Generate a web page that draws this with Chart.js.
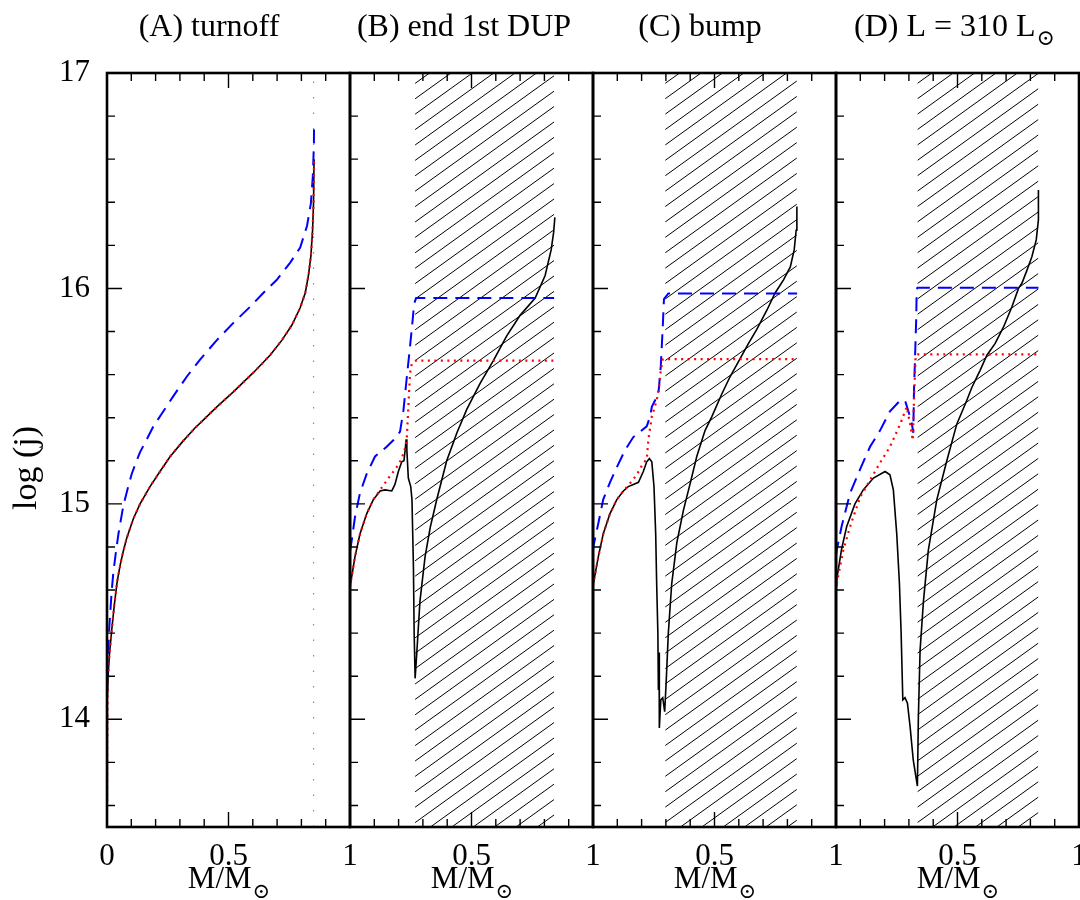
<!DOCTYPE html>
<html><head><meta charset="utf-8">
<script src="https://cdn.jsdelivr.net/npm/chart.js@4.4.1/dist/chart.umd.min.js"></script>
<style>
html,body{margin:0;padding:0;background:#fff;}
#wrap{position:relative;width:1080px;height:900px;overflow:hidden;background:#fff;}
#wrap canvas{position:absolute;top:0;}
</style></head><body><div id="wrap"></div>
<script>
// ---------------- data (mass coordinate M/Msun, log j) ----------------
const panelTitles = ['(A) turnoff', '(B) end 1st DUP', '(C) bump', '(D) L = 310 L'];
const panelTitleSubs = ['', '', '', '\u2299'];
const xAxisLabel = 'M/M';
const xAxisLabelSub = '\u2299';
const yAxisLabel = 'log (j)';
const yTickValues = [14, 15, 16, 17];
const xTickValuesFirst = [0, 0.5, 1];
const xTickValuesOther = [0.5, 1];
const xMajorMarks = [0.5];
const xMinorMarks = [0.1, 0.2, 0.3, 0.4, 0.6, 0.7, 0.8, 0.9];
const yMajorMarks = [14, 15, 16];
const yMinorMarks = [13.6, 13.8, 14.2, 14.4, 14.6, 14.8, 15.2, 15.4, 15.6, 15.8, 16.2, 16.4, 16.6, 16.8];

// Panel A (turnoff)
const aSolid = [[0,13.62],[0.0008,13.9],[0.002,14.1],[0.005,14.21],[0.01,14.30],[0.019,14.41],[0.03,14.53],[0.042,14.64],[0.055,14.72],[0.067,14.78],[0.081,14.84],[0.108,14.93],[0.136,15.00],[0.177,15.08],[0.218,15.15],[0.26,15.22],[0.312,15.29],[0.36,15.35],[0.397,15.39],[0.452,15.45],[0.52,15.52],[0.603,15.61],[0.671,15.69],[0.72,15.76],[0.761,15.83],[0.795,15.91],[0.816,15.98],[0.829,16.06],[0.839,16.15],[0.846,16.27],[0.85,16.40],[0.852,16.6]];
const aDotted = [[0,13.62],[0.0008,13.9],[0.002,14.1],[0.005,14.21],[0.01,14.30],[0.019,14.41],[0.03,14.53],[0.042,14.64],[0.055,14.72],[0.067,14.78],[0.081,14.84],[0.108,14.93],[0.136,15.00],[0.177,15.08],[0.218,15.15],[0.26,15.22],[0.312,15.29],[0.36,15.35],[0.397,15.39],[0.452,15.45],[0.52,15.52],[0.603,15.61],[0.671,15.69],[0.72,15.76],[0.761,15.83],[0.795,15.91],[0.816,15.98],[0.829,16.06],[0.839,16.15],[0.846,16.27],[0.85,16.40],[0.852,16.6]];
const aDashed = [[0,14.1],[0.001,14.21],[0.005,14.31],[0.0095,14.43],[0.019,14.59],[0.026,14.68],[0.036,14.77],[0.047,14.86],[0.067,14.99],[0.085,15.07],[0.102,15.14],[0.12,15.195],[0.136,15.24],[0.164,15.30],[0.191,15.36],[0.232,15.43],[0.273,15.50],[0.328,15.59],[0.383,15.67],[0.452,15.76],[0.52,15.84],[0.589,15.915],[0.644,15.98],[0.699,16.04],[0.754,16.12],[0.795,16.19],[0.823,16.29],[0.839,16.395],[0.847,16.52],[0.8515,16.67],[0.852,16.77]];
const aStarMass = [[0.85,13.5],[0.85,17]];

// Panel B (end 1st DUP)
const bSolid = [[0,14.615],[0.0206,14.755],[0.041,14.86],[0.069,14.955],[0.096,15.02],[0.124,15.06],[0.144,15.065],[0.172,15.06],[0.185,15.09],[0.199,15.15],[0.213,15.195],[0.222,15.20],[0.227,15.25],[0.231,15.30],[0.234,15.25],[0.24,15.12],[0.25,15.08],[0.255,15.02],[0.261,14.71],[0.264,14.40],[0.268,14.19],[0.275,14.31],[0.288,14.55],[0.309,14.755],[0.33,14.89],[0.357,15.02],[0.398,15.20],[0.44,15.33],[0.481,15.44],[0.536,15.56],[0.59,15.665],[0.645,15.78],[0.70,15.875],[0.762,15.955],[0.803,16.06],[0.828,16.18],[0.838,16.26],[0.843,16.33]];
const bDashed = [[0,14.78],[0.007,14.83],[0.0206,14.94],[0.041,15.05],[0.069,15.14],[0.103,15.22],[0.151,15.265],[0.178,15.295],[0.206,15.335],[0.22,15.435],[0.234,15.59],[0.247,15.73],[0.258,15.855],[0.264,15.93],[0.272,15.955],[0.84,15.955]];
const bDotted = [[0,14.615],[0.0206,14.755],[0.041,14.86],[0.069,14.955],[0.096,15.02],[0.124,15.065],[0.165,15.13],[0.192,15.17],[0.213,15.21],[0.227,15.26],[0.234,15.31],[0.24,15.45],[0.247,15.605],[0.254,15.65],[0.272,15.665],[0.84,15.665]];
const bHatch = [0.268, 0.84];

// Panel C (bump)
const cSolid = [[0,14.62],[0.022,14.755],[0.042,14.86],[0.07,14.955],[0.098,15.02],[0.125,15.06],[0.145,15.08],[0.166,15.09],[0.187,15.10],[0.207,15.15],[0.221,15.195],[0.232,15.21],[0.242,15.195],[0.251,15.08],[0.258,14.86],[0.262,14.63],[0.267,14.40],[0.269,14.14],[0.2705,14.30],[0.272,14.31],[0.273,13.96],[0.279,14.09],[0.287,14.10],[0.295,14.035],[0.301,14.17],[0.31,14.40],[0.324,14.63],[0.345,14.82],[0.372,14.97],[0.40,15.095],[0.427,15.22],[0.461,15.34],[0.489,15.405],[0.53,15.51],[0.564,15.59],[0.606,15.675],[0.64,15.745],[0.674,15.81],[0.716,15.90],[0.75,15.98],[0.784,16.04],[0.812,16.10],[0.828,16.18],[0.836,16.27],[0.839,16.38]];
const cDashed = [[0,14.78],[0.001,14.80],[0.022,14.91],[0.042,15.02],[0.07,15.10],[0.098,15.17],[0.132,15.25],[0.166,15.31],[0.194,15.335],[0.221,15.36],[0.235,15.405],[0.242,15.45],[0.255,15.48],[0.269,15.51],[0.279,15.64],[0.287,15.82],[0.292,15.95],[0.31,15.977],[0.84,15.977]];
const cDotted = [[0,14.62],[0.022,14.755],[0.042,14.86],[0.07,14.955],[0.098,15.02],[0.125,15.06],[0.152,15.095],[0.18,15.135],[0.207,15.19],[0.221,15.205],[0.228,15.30],[0.242,15.405],[0.262,15.48],[0.272,15.545],[0.279,15.62],[0.287,15.67],[0.297,15.672],[0.84,15.672]];
const cHatch = [0.297, 0.839];

// Panel D (L = 310 Lsun)
const dSolid = [[0,14.62],[0.003,14.65],[0.023,14.79],[0.044,14.895],[0.078,15.0],[0.112,15.065],[0.154,15.12],[0.202,15.15],[0.222,15.135],[0.236,15.065],[0.25,14.86],[0.261,14.63],[0.268,14.40],[0.275,14.09],[0.284,14.10],[0.294,14.075],[0.305,13.965],[0.318,13.81],[0.335,13.69],[0.339,14.01],[0.346,14.32],[0.36,14.55],[0.38,14.785],[0.415,15.02],[0.456,15.20],[0.497,15.37],[0.538,15.48],[0.559,15.54],[0.593,15.62],[0.621,15.69],[0.655,15.745],[0.689,15.82],[0.724,15.915],[0.751,16.0],[0.765,16.024],[0.786,16.085],[0.806,16.147],[0.824,16.225],[0.833,16.318],[0.833,16.457]];
const dDashed = [[0,14.76],[0.003,14.785],[0.023,14.895],[0.058,15.05],[0.099,15.16],[0.14,15.265],[0.181,15.34],[0.222,15.43],[0.264,15.48],[0.284,15.48],[0.298,15.43],[0.312,15.375],[0.318,15.33],[0.321,15.53],[0.325,15.67],[0.33,15.855],[0.332,15.99],[0.335,16.003],[0.833,16.003]];
const dDotted = [[0,14.6],[0.003,14.63],[0.03,14.785],[0.058,14.895],[0.099,15.03],[0.14,15.11],[0.181,15.19],[0.222,15.265],[0.264,15.37],[0.291,15.45],[0.305,15.37],[0.316,15.295],[0.321,15.48],[0.327,15.67],[0.333,15.694],[0.833,15.694]];
const dHatch = [0.335, 0.833];

// ---------------- layout ----------------
const PANEL_LEFT = [107, 350, 593, 836];
const PANEL_W = 243;
const TOP = 73, BOTTOM = 827, H = 900, PAD = 40;
const FONT = "'Liberation Serif','DejaVu Serif',serif";
const TITLE_CENTER = [209, 464, 700, 954];

const panels = [
  {solid: aSolid, dashed: aDashed, dotted: aDotted, extra: aStarMass, hatch: null, xticks: xTickValuesFirst},
  {solid: bSolid, dashed: bDashed, dotted: bDotted, extra: null, hatch: bHatch, xticks: xTickValuesOther},
  {solid: cSolid, dashed: cDashed, dotted: cDotted, extra: null, hatch: cHatch, xticks: xTickValuesOther},
  {solid: dSolid, dashed: dDashed, dotted: dDotted, extra: null, hatch: dHatch, xticks: xTickValuesOther}
];

function pts(a){ return a.map(p => ({x: p[0], y: p[1]})); }

function drawSubText(ctx, main, sub, cx, baseline, size, subSize, drop) {
  ctx.font = size + 'px ' + FONT;
  const w1 = ctx.measureText(main).width;
  ctx.font = subSize + 'px ' + FONT;
  const w2 = sub ? ctx.measureText(sub).width : 0;
  const x0 = cx - (w1 + w2) / 2;
  ctx.textAlign = 'left'; ctx.textBaseline = 'alphabetic'; ctx.fillStyle = '#000';
  ctx.font = size + 'px ' + FONT;
  ctx.fillText(main, x0, baseline);
  if (sub) { ctx.font = subSize + 'px ' + FONT; ctx.fillText(sub, x0 + w1 + 1, baseline + drop); }
}

const hatchPlugin = {
  id: 'hatch',
  beforeDatasetsDraw(chart, args, opts) {
    if (!opts.range) return;
    const {ctx, chartArea: ca, scales: {x}} = chart;
    const x0 = x.getPixelForValue(opts.range[0]), x1 = x.getPixelForValue(opts.range[1]);
    const w = x1 - x0, slope = 0.72, gap = 15.4;
    ctx.save();
    ctx.beginPath(); ctx.rect(x0, ca.top, w, ca.bottom - ca.top); ctx.clip();
    ctx.strokeStyle = '#000'; ctx.lineWidth = 1;
    ctx.beginPath();
    for (let yy = ca.top - 5; yy < ca.bottom + w * slope + gap; yy += gap) {
      ctx.moveTo(x0, yy); ctx.lineTo(x1, yy - w * slope);
    }
    ctx.stroke();
    ctx.restore();
  }
};

const framePlugin = {
  id: 'frame',
  afterDraw(chart, args, opts) {
    const {ctx, chartArea: ca, scales: {x, y}} = chart;
    ctx.save();
    ctx.strokeStyle = '#000'; ctx.lineWidth = 1.4; ctx.lineCap = 'butt';
    ctx.beginPath();
    const xm = (v, len) => { const px = x.getPixelForValue(v); ctx.moveTo(px, ca.top); ctx.lineTo(px, ca.top + len); ctx.moveTo(px, ca.bottom); ctx.lineTo(px, ca.bottom - len); };
    const ym = (v, len) => { const py = y.getPixelForValue(v); ctx.moveTo(ca.left, py); ctx.lineTo(ca.left + len, py); };
    xMinorMarks.forEach(v => xm(v, 8));
    xMajorMarks.forEach(v => xm(v, 15));
    yMinorMarks.forEach(v => ym(v, 8));
    yMajorMarks.forEach(v => ym(v, 15));
    ctx.stroke();
    ctx.lineWidth = 2.6;
    ctx.strokeRect(ca.left, ca.top, ca.right - ca.left, ca.bottom - ca.top);
    // panel title
    const cx = (ca.left + ca.right) / 2;
    drawSubText(ctx, opts.title, opts.titleSub, cx + opts.titleShift, 36, 32, 22, 9);
    // x axis title
    drawSubText(ctx, xAxisLabel, xAxisLabelSub, cx, 888, 31, 21, 10);
    // y axis title (first panel only)
    if (opts.yTitle) {
      ctx.save();
      ctx.translate(27, 468);
      ctx.rotate(-Math.PI / 2);
      ctx.font = '34px ' + FONT;
      ctx.textAlign = 'center'; ctx.textBaseline = 'middle'; ctx.fillStyle = '#000';
      ctx.fillText(opts.yTitle, 0, 0);
      ctx.restore();
    }
    ctx.restore();
  }
};

const wrap = document.getElementById('wrap');
panels.forEach((p, i) => {
  const c = document.createElement('canvas');
  const left = i === 0 ? 0 : PANEL_LEFT[i] - PAD;
  const width = i === 0 ? PANEL_LEFT[0] + PANEL_W + PAD : PANEL_W + 2 * PAD;
  c.width = width; c.height = H;
  c.style.left = left + 'px';
  c.style.width = width + 'px'; c.style.height = H + 'px';
  wrap.appendChild(c);

  const datasets = [
    {label: 'dotted', data: pts(p.dotted), showLine: true, pointRadius: 0, borderColor: '#ff0000', borderWidth: 2.2, borderDash: [2, 4.5], tension: 0, order: 0},
    {label: 'dashed', data: pts(p.dashed), showLine: true, pointRadius: 0, borderColor: '#0000ff', borderWidth: 2, borderDash: [14, 8], tension: 0, order: 1},
    {label: 'solid', data: pts(p.solid), showLine: true, pointRadius: 0, borderColor: '#000000', borderWidth: 1.6, tension: 0, order: 2}
  ];
  if (p.extra) datasets.push({label: 'total mass', data: pts(p.extra), showLine: true, pointRadius: 0, borderColor: '#8a8a8a', borderWidth: 1.2, borderDash: [1.5, 14], order: 3});

  const yScale = {
    type: 'linear', min: 13.5, max: 17, display: i === 0,
    afterBuildTicks: s => { s.ticks = yTickValues.map(v => ({value: v})); },
    grid: {display: false, drawTicks: false}, border: {display: false},
    ticks: {padding: 17, color: '#000', font: {family: FONT, size: 31}, callback: v => String(v)},
    title: {display: false}
  };
  if (i === 0) yScale.afterFit = s => { s.width = PANEL_LEFT[0]; };

  new Chart(c, {
    type: 'scatter',
    data: {datasets},
    options: {
      responsive: false, animation: false, devicePixelRatio: 1,
      layout: {padding: {left: i === 0 ? 0 : PAD, right: PAD, top: TOP, bottom: 0}},
      plugins: {
        legend: {display: false}, tooltip: {enabled: false}, title: {display: false},
        hatch: {range: p.hatch},
        frame: {title: panelTitles[i], titleSub: panelTitleSubs[i], titleShift: TITLE_CENTER[i] - (PANEL_LEFT[i] + PANEL_W / 2), yTitle: i === 0 ? yAxisLabel : null}
      },
      scales: {
        x: {
          type: 'linear', min: 0, max: 1,
          afterBuildTicks: s => { s.ticks = p.xticks.map(v => ({value: v})); },
          afterFit: s => { s.height = H - BOTTOM; },
          grid: {display: false, drawTicks: false}, border: {display: false},
          ticks: {padding: 11, color: '#000', maxRotation: 0, autoSkip: false, font: {family: FONT, size: 31}, callback: v => String(v)}
        },
        y: yScale
      }
    },
    plugins: [hatchPlugin, framePlugin]
  });
});
</script></body></html>
